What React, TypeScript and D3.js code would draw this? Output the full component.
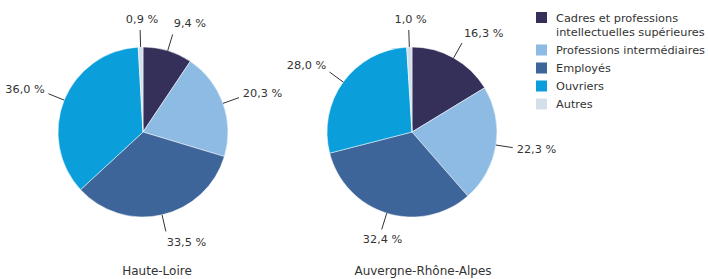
import React, { useEffect, useRef } from "react";
import * as d3 from "d3";

const categories = [
  "Cadres et professions intellectuelles supérieures",
  "Professions intermédiaires",
  "Employés",
  "Ouvriers",
  "Autres",
];
const legendLines = [
  ["Cadres et professions", "intellectuelles supérieures"],
  ["Professions intermédiaires"],
  ["Employés"],
  ["Ouvriers"],
  ["Autres"],
];
const hauteLoire = [9.4, 20.3, 33.5, 36.0, 0.9];
const auvergne = [16.3, 22.3, 32.4, 28.0, 1.0];
const regions = ["Haute-Loire", "Auvergne-Rhône-Alpes"];
const colors = ["#35305a", "#8ebbe4", "#3e6599", "#0a9fda", "#d3e0ec"];

export default function App() {
  const ref = useRef<SVGSVGElement>(null);

  useEffect(() => {
    if (!ref.current) return;
    const svg = d3.select(ref.current);
    svg.selectAll("*").remove();

    const font = "'DejaVu Sans', sans-serif";
    const textColor = "#333";
    const radius = 85;
    const centers = [
      { cx: 143, cy: 132, title: 157 },
      { cx: 412, cy: 132, title: 423 },
    ];
    const color = d3.scaleOrdinal<string, string>().domain(categories).range(colors);
    const pie = d3.pie<number>().sort(null).value((d) => d);
    const arc = d3.arc<d3.PieArcDatum<number>>().innerRadius(0).outerRadius(radius);
    const fmt = (v: number) => v.toFixed(1).replace(".", ",") + " %";

    [hauteLoire, auvergne].forEach((values, i) => {
      const { cx, cy, title } = centers[i];
      const g = svg.append("g").attr("transform", `translate(${cx},${cy})`);
      const arcs = pie(values);

      g.selectAll("path")
        .data(arcs)
        .enter()
        .append("path")
        .attr("d", arc)
        .attr("fill", (d, j) => color(categories[j]))
        .attr("stroke", "#fff")
        .attr("stroke-width", 0.5);

      // leader lines + value labels
      arcs.forEach((d) => {
        const a = (d.startAngle + d.endAngle) / 2;
        const s = Math.sin(a);
        const c = Math.cos(a);
        const x1 = s * radius, y1 = -c * radius;
        const x2 = s * (radius + 17), y2 = -c * (radius + 17);
        g.append("line")
          .attr("x1", x1).attr("y1", y1)
          .attr("x2", x2).attr("y2", y2)
          .attr("stroke", textColor)
          .attr("stroke-width", 1);
        const anchor = s > 0.1 ? "start" : s < -0.5 ? "end" : "middle";
        g.append("text")
          .attr("x", x2 + s * 4 + (anchor === "middle" ? 2 : 0))
          .attr("y", y2 - c * 11)
          .attr("text-anchor", anchor)
          .attr("dominant-baseline", "central")
          .style("font-family", font)
          .style("font-size", "11.3px")
          .attr("fill", textColor)
          .text(fmt(d.data));
      });

      svg.append("text")
        .attr("x", title)
        .attr("y", 271)
        .attr("text-anchor", "middle")
        .attr("dominant-baseline", "central")
        .style("font-family", font)
        .style("font-size", "12px")
        .attr("fill", textColor)
        .text(regions[i]);
    });

    // Legend
    const legend = svg.append("g").attr("transform", "translate(536,0)");
    const rowY = [17.5, 50, 68, 86, 104];
    categories.forEach((cat, i) => {
      legend.append("rect")
        .attr("x", 0)
        .attr("y", rowY[i] - 5.5)
        .attr("width", 11)
        .attr("height", 11)
        .attr("fill", color(cat));
      const t = legend.append("text")
        .attr("x", 20)
        .attr("y", rowY[i])
        .attr("dominant-baseline", "central")
        .style("font-family", font)
        .style("font-size", "11.3px")
        .attr("fill", textColor);
      legendLines[i].forEach((line, k) => {
        t.append("tspan")
          .attr("x", 20)
          .attr("y", rowY[i] + k * 14)
          .text(line);
      });
    });
  }, []);

  return (
    <svg
      ref={ref}
      width={708}
      height={279}
      style={{ position: "absolute", left: 0, top: 0, background: "#fff" }}
    ></svg>
  );
}
